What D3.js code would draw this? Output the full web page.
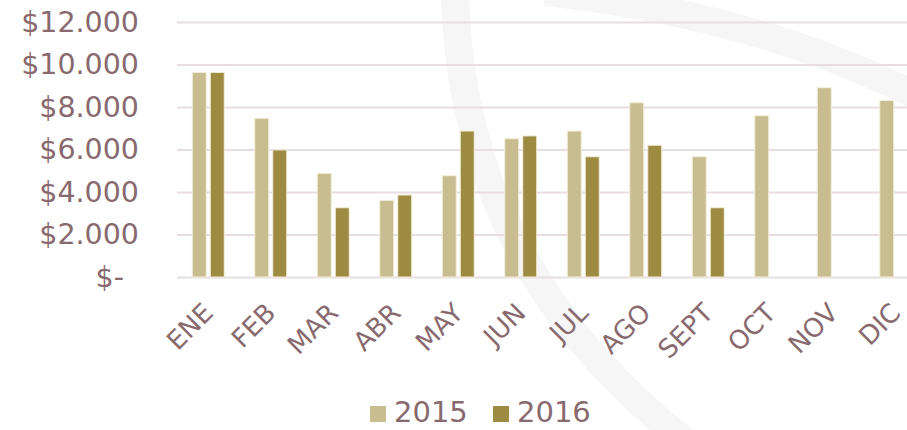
<html>
    <head>
        <style>
body {
    margin: 0;
    background: #fff;
}
.chart text {
    font-family: "DejaVu Sans", sans-serif;
    fill: #886a6e;
}
.grid line {
    stroke: #e8dde0;
    stroke-width: 2;
}
.swoosh {
    fill: none;
    stroke: #f6f6f6;
}
        </style>
    </head>
    <body>
<script src="https://d3js.org/d3.v7.min.js"></script>
<script>

const
    width = 907,
    height = 430;

// monthly values
const months = ['ENE', 'FEB', 'MAR', 'ABR', 'MAY', 'JUN', 'JUL', 'AGO', 'SEPT', 'OCT', 'NOV', 'DIC'];
const series = ['2015', '2016'];
const values2015 = [9630, 7470, 4880, 3610, 4770, 6510, 6870, 8200, 5660, 7590, 8910, 8310];
const values2016 = [9630, 5980, 3260, 3860, 6870, 6640, 5660, 6200, 3260, null, null, null];
const yTicks = [0, 2000, 4000, 6000, 8000, 10000, 12000];
const colors = ['#c7bd91', '#9c8b41'];

const
    plotLeft = 177, plotRight = 927,
    plotTop = 22, plotBottom = 277;

var svg = d3.select('body')
    .append('svg')
    .classed('chart', true)
    .attr('width', width)
    .attr('height', height);

// faint decorative arcs behind the chart
svg.append('path')
    .classed('swoosh', true)
    .attr('stroke-width', 28)
    .attr('d', 'M455,-5 Q462,270 690,445');
svg.append('path')
    .classed('swoosh', true)
    .attr('stroke-width', 28)
    .attr('d', 'M545,-8 Q760,15 925,100');

const x0 = d3.scaleBand()
    .domain(months)
    .range([plotLeft, plotRight])
    .paddingInner(0.488)
    .paddingOuter(0.244);

const x1 = d3.scaleBand()
    .domain(series)
    .range([0, x0.bandwidth()])
    .paddingInner(0.222);

const y = d3.scaleLinear()
    .domain([0, 12000])
    .range([plotBottom, plotTop]);

const fmt = d => d === 0 ? '$-' : '$' + d3.format(',')(d).replace(/,/g, '.');

var yAxis = svg.append('g')
    .classed('grid', true)
    .attr('transform', 'translate(' + plotLeft + ',0)')
    .call(d3.axisLeft(y).tickValues(yTicks).tickFormat(fmt).tickSize(-(width - plotLeft)).tickPadding(38));
yAxis.select('.domain').remove();
yAxis.selectAll('text')
    .attr('font-size', 28.5)
    .attr('dx', d => d === 0 ? -15 : 0);

var xAxis = svg.append('g')
    .attr('transform', 'translate(0,' + plotBottom + ')')
    .call(d3.axisBottom(x0).tickSize(0));
xAxis.select('.domain').remove();
xAxis.selectAll('text')
    .attr('font-size', 26)
    .attr('text-anchor', 'end')
    .attr('x', 0)
    .attr('y', 0)
    .attr('dy', '0.35em')
    .attr('transform', 'translate(0,31) rotate(-45)');

const rows = months.map((m, i) => ({month: m, vals: [values2015[i], values2016[i]]}));

svg.append('g')
    .selectAll('g')
    .data(rows)
  .enter().append('g')
    .attr('transform', d => 'translate(' + x0(d.month) + ',0)')
    .selectAll('rect')
    .data(d => series.map((s, j) => ({s: s, v: d.vals[j], c: colors[j]})).filter(d => d.v != null))
  .enter().append('rect')
    .attr('x', d => x1(d.s))
    .attr('width', x1.bandwidth())
    .attr('y', d => y(d.v))
    .attr('height', d => y(0) - y(d.v))
    .attr('fill', d => d.c)
    .attr('stroke', '#f3efdc')
    .attr('stroke-width', 1);

// legend
const legendX = [370, 493];
var legend = svg.append('g')
    .selectAll('g')
    .data(series)
  .enter().append('g')
    .attr('transform', (d, i) => 'translate(' + legendX[i] + ',406)');
legend.append('rect')
    .attr('width', 16)
    .attr('height', 16)
    .attr('fill', (d, i) => colors[i]);
legend.append('text')
    .attr('x', 24)
    .attr('y', 16)
    .attr('font-size', 29)
    .text(d => d);

</script>
    </body>
</html>
